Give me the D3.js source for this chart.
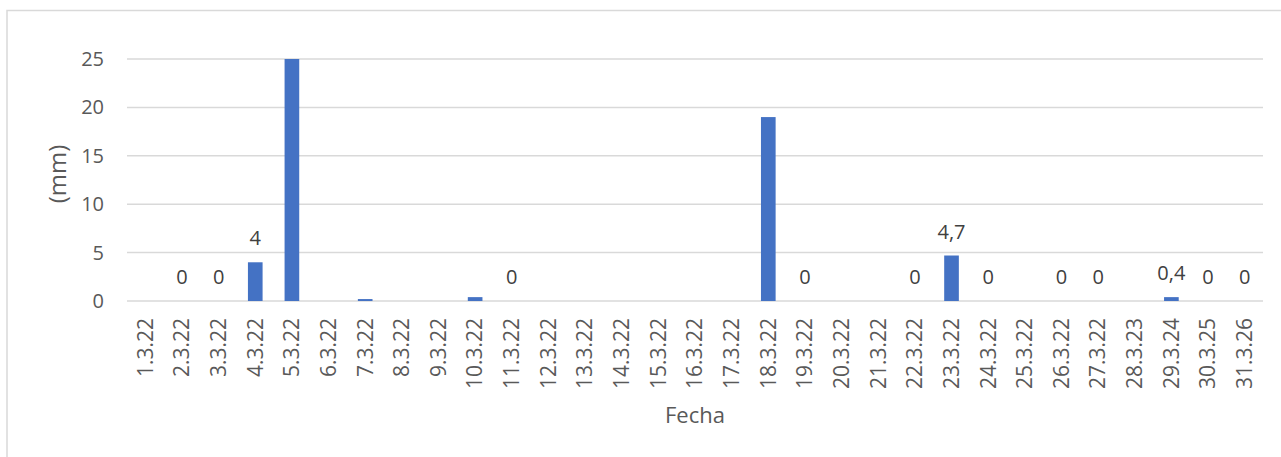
<!DOCTYPE html>
<html>
<head>
<meta charset="utf-8">
<script src="https://cdn.jsdelivr.net/npm/d3@7"></script>
<style>
  html, body { margin: 0; padding: 0; background: #fff; }
  svg { display: block; font-family: "Open Sans", sans-serif; }
</style>
</head>
<body>
<svg id="chart" width="1281" height="457"></svg>
<script>
// Daily precipitation, March
const fechas = ["1.3.22","2.3.22","3.3.22","4.3.22","5.3.22","6.3.22","7.3.22","8.3.22","9.3.22","10.3.22",
  "11.3.22","12.3.22","13.3.22","14.3.22","15.3.22","16.3.22","17.3.22","18.3.22","19.3.22","20.3.22",
  "21.3.22","22.3.22","23.3.22","24.3.22","25.3.22","26.3.22","27.3.22","28.3.23","29.3.24","30.3.25","31.3.26"];
const precipitacion = [0, 0, 0, 4, 25, 0, 0.2, 0, 0, 0.4,
  0, 0, 0, 0, 0, 0, 0, 19, 0, 0,
  0, 0, 4.7, 0, 0, 0, 0, 0, 0.4, 0, 0];
// Dates that carry a value label
const fechasEtiquetadas = ["2.3.22","3.3.22","4.3.22","11.3.22","19.3.22","22.3.22","23.3.22",
  "24.3.22","26.3.22","27.3.22","29.3.24","30.3.25","31.3.26"];
const yTicks = [0, 5, 10, 15, 20, 25];

const data = fechas.map((f, i) => ({ fecha: f, valor: precipitacion[i] }));

const svg = d3.select("#chart");
const textColor = "#595959";
const gridColor = "#d9d9d9";

// chart frame
svg.append("rect")
  .attr("x", 7).attr("y", 10.5)
  .attr("width", 1300).attr("height", 470)
  .attr("fill", "#fff")
  .attr("stroke", gridColor).attr("stroke-width", 1.5);

const x = d3.scaleBand()
  .domain(fechas)
  .range([127, 1263])
  .paddingInner(0.6)
  .paddingOuter(0.3);

const y = d3.scaleLinear().domain([0, 25]).range([301, 59]);

// horizontal gridlines
svg.append("g")
  .selectAll("line")
  .data(yTicks)
  .join("line")
  .attr("x1", 127).attr("x2", 1263)
  .attr("y1", d => y(d)).attr("y2", d => y(d))
  .attr("stroke", gridColor).attr("stroke-width", 1.5);

// y axis labels
const yAxis = d3.axisLeft(y).tickValues(yTicks).tickSize(0).tickPadding(0).tickFormat(d3.format("d"));
svg.append("g")
  .attr("transform", "translate(104,0)")
  .call(yAxis)
  .call(g => g.select(".domain").remove())
  .selectAll("text")
  .attr("fill", textColor)
  .style("font-size", "20px")
  .style("font-family", "'Open Sans', sans-serif");

// bars
svg.append("g")
  .selectAll("rect")
  .data(data.filter(d => d.valor > 0))
  .join("rect")
  .attr("x", d => x(d.fecha))
  .attr("width", x.bandwidth())
  .attr("y", d => y(d.valor))
  .attr("height", d => y(0) - y(d.valor))
  .attr("fill", "#4472C4");

// value labels
const fmt = v => String(v).replace(".", ",");
svg.append("g")
  .selectAll("text")
  .data(data.filter(d => fechasEtiquetadas.includes(d.fecha)))
  .join("text")
  .attr("x", d => x(d.fecha) + x.bandwidth() / 2)
  .attr("y", d => y(d.valor) - 17)
  .attr("text-anchor", "middle")
  .attr("fill", "#404040")
  .style("font-size", "20px")
  .text(d => fmt(d.valor));

// x axis labels (rotated)
const xAxis = d3.axisBottom(x).tickSize(0).tickPadding(0);
const gx = svg.append("g")
  .attr("transform", "translate(0,318)")
  .call(xAxis);
gx.select(".domain").remove();
gx.selectAll("text")
  .attr("transform", "rotate(-90)")
  .attr("x", 0).attr("y", 0)
  .attr("dy", "0.35em")
  .attr("text-anchor", "end")
  .attr("fill", textColor)
  .style("font-size", "21px")
  .style("font-family", "'Open Sans', sans-serif");

// axis titles
svg.append("text")
  .attr("transform", "translate(58,174) rotate(-90)")
  .attr("text-anchor", "middle")
  .attr("dy", "0.35em")
  .attr("fill", textColor)
  .style("font-size", "24px")
  .text("(mm)");

svg.append("text")
  .attr("x", 695).attr("y", 423)
  .attr("text-anchor", "middle")
  .attr("fill", textColor)
  .style("font-size", "22px")
  .text("Fecha");
</script>
</body>
</html>
